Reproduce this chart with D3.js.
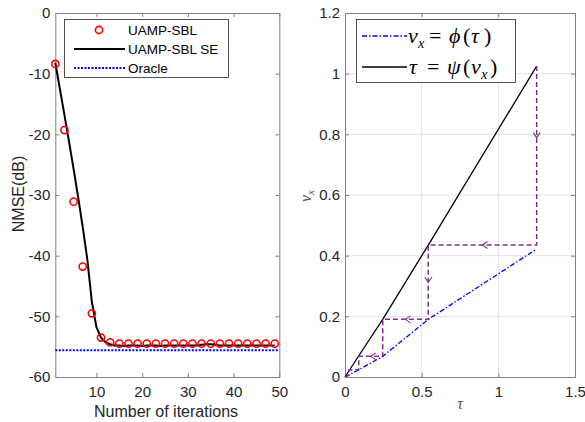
<!DOCTYPE html>
<html><head><meta charset="utf-8">
<script src="https://cdn.jsdelivr.net/npm/d3@7"></script>
<style>body{margin:0;background:#fff}svg{display:block}</style>
</head><body>
<script>
// ---- Left panel data ----
const simIters = [1,3,5,7,9,11,13,15,17,19,21,23,25,27,29,31,33,35,37,39,41,43,45,47,49];
const simNMSE  = [-8.4,-19.3,-31.1,-41.8,-49.5,-53.5,-54.3,-54.5,-54.5,-54.5,-54.5,-54.5,-54.5,-54.5,-54.5,-54.5,-54.5,-54.5,-54.5,-54.5,-54.5,-54.5,-54.5,-54.5,-54.5];
const seIters  = [1,2,3,4,5,6,7,8,9,10,11,12,13,14,15,16,17,18,19,20,21,22,23,24,25,26,27,28,29,30,31,32,33,34,35,36,37,38,39,40,41,42,43,44,45,46,47,48,49];
const seNMSE   = [-8.2,-12.5,-16.8,-21.2,-25.7,-30.4,-35.3,-40.6,-47.6,-51.8,-53.5,-54.3,-54.6,-54.8,-54.8,-54.9,-54.8,-54.8,-54.8,-54.9,-54.8,-54.8,-54.8,-54.9,-54.8,-54.8,-54.8,-54.8,-54.8,-54.8,-54.8,-54.8,-54.7,-54.6,-54.6,-54.7,-54.8,-54.8,-54.8,-54.8,-54.8,-54.8,-54.8,-54.8,-54.8,-54.8,-54.8,-54.8,-54.8];
const oracleNMSE = -55.6;
const leftXTicks = [10,20,30,40,50];
const leftYTicks = [0,-10,-20,-30,-40,-50,-60];

// ---- Right panel data ----
const psiTau = [0, 0.09, 0.246, 0.543, 1.25];
const psiV   = [0, 0.07, 0.19, 0.435, 1.025];
const phiTau = [0, 0.09, 0.246, 0.543, 1.25];
const phiV   = [0, 0.024, 0.068, 0.19, 0.422];
const stairTau = [1.25, 1.25, 0.543, 0.543, 0.246, 0.246, 0.09, 0.09, 0.025, 0.025, 0];
const stairV   = [1.025, 0.435, 0.435, 0.19, 0.19, 0.068, 0.068, 0.024, 0.024, 0.006, 0];
const arrowSegs = [0, 1, 2, 3, 5];
const rightXTicks = [0, 0.5, 1, 1.5];
const rightYTicks = [0, 0.2, 0.4, 0.6, 0.8, 1, 1.2];

const W = 585, H = 422;
const svg = d3.select("body").append("svg").attr("width", W).attr("height", H);
const font = "'Liberation Sans', Arial, sans-serif";
const txtCol = "#262626", axCol = "#808080";
const yTop = 13, yBot = 377;

// ================= LEFT =================
const xL = d3.scaleLinear().domain([1, 50]).range([55.3, 279.3]);
const yL = d3.scaleLinear().domain([-60, 0]).range([yBot, yTop]);
const gL = svg.append("g");

function axesFrame(g, x, y, xt, yt, fmtX, fmtY, grid) {
  const [x0, x1] = x.range(), y0 = y.range()[1], y1 = y.range()[0];
  if (grid) {
    g.append("g").selectAll("line").data(xt.filter(t => x(t) > x0 + 1 && x(t) < x1 - 1)).join("line")
      .attr("x1", d => x(d)).attr("x2", d => x(d)).attr("y1", y0).attr("y2", y1)
      .attr("stroke", "#e3e3e3").attr("stroke-width", 1);
    g.append("g").selectAll("line").data(yt.filter(t => y(t) > y0 + 1 && y(t) < y1 - 1)).join("line")
      .attr("y1", d => y(d)).attr("y2", d => y(d)).attr("x1", x0).attr("x2", x1)
      .attr("stroke", "#e3e3e3").attr("stroke-width", 1);
  }
  const ax = [
    [d3.axisBottom(x).tickValues(xt).tickSizeInner(-4).tickSizeOuter(0).tickPadding(9).tickFormat(fmtX), `translate(0,${y1})`],
    [d3.axisTop(x).tickValues(xt).tickSizeInner(-4).tickSizeOuter(0).tickFormat(() => ""), `translate(0,${y0})`],
    [d3.axisLeft(y).tickValues(yt).tickSizeInner(-4).tickSizeOuter(0).tickPadding(5).tickFormat(fmtY), `translate(${x0},0)`],
    [d3.axisRight(y).tickValues(yt).tickSizeInner(-4).tickSizeOuter(0).tickFormat(() => ""), `translate(${x1},0)`]
  ];
  ax.forEach(([a, tr]) => {
    const s = g.append("g").attr("transform", tr).call(a);
    s.select(".domain").attr("stroke", axCol).attr("stroke-width", 1);
    s.selectAll(".tick line").attr("stroke", axCol);
    s.selectAll(".tick text").attr("font-family", font).attr("font-size", 15).attr("fill", txtCol);
  });
}
axesFrame(gL, xL, yL, leftXTicks, leftYTicks, d => String(d), d => String(d), false);

// oracle
gL.append("line").attr("x1", xL(1)).attr("x2", xL(50)).attr("y1", yL(oracleNMSE)).attr("y2", yL(oracleNMSE))
  .attr("stroke", "#0000ff").attr("stroke-width", 2).attr("stroke-dasharray", "2,1.5");
// SE
const seData = seIters.map((d, i) => [d, seNMSE[i]]);
gL.append("path").datum(seData).attr("fill", "none").attr("stroke", "#000").attr("stroke-width", 2)
  .attr("d", d3.line().x(d => xL(d[0])).y(d => yL(d[1])));
// sim circles
gL.append("g").selectAll("circle").data(simIters.map((d, i) => [d, simNMSE[i]])).join("circle")
  .attr("cx", d => xL(d[0])).attr("cy", d => yL(d[1])).attr("r", 3.6)
  .attr("fill", "none").attr("stroke", "#ff0000").attr("stroke-width", 1.6);

// labels
gL.append("text").attr("transform", "translate(23.5,194) rotate(-90)").attr("text-anchor", "middle")
  .attr("font-family", font).attr("font-size", 16).attr("fill", txtCol).text("NMSE(dB)");
gL.append("text").attr("x", 166).attr("y", 417).attr("text-anchor", "middle")
  .attr("font-family", font).attr("font-size", 16).attr("fill", txtCol).text("Number of iterations");

// legend
const lg = gL.append("g");
lg.append("rect").attr("x", 64.5).attr("y", 19.5).attr("width", 164).attr("height", 58)
  .attr("fill", "#fff").attr("stroke", "#262626").attr("stroke-width", 0.8);
const legL = [
  {t: "UAMP-SBL", y: 30},
  {t: "UAMP-SBL SE", y: 49},
  {t: "Oracle", y: 68}
];
lg.append("circle").attr("cx", 99).attr("cy", legL[0].y).attr("r", 3.6).attr("fill", "none").attr("stroke", "#ff0000").attr("stroke-width", 1.6);
lg.append("line").attr("x1", 74).attr("x2", 125).attr("y1", legL[1].y).attr("y2", legL[1].y).attr("stroke", "#000").attr("stroke-width", 2);
lg.append("line").attr("x1", 74).attr("x2", 125).attr("y1", legL[2].y).attr("y2", legL[2].y).attr("stroke", "#0000ff").attr("stroke-width", 2).attr("stroke-dasharray", "2,1.5");
lg.selectAll("text").data(legL).join("text").attr("x", 128).attr("y", d => d.y + 5)
  .attr("font-family", font).attr("font-size", 13.5).attr("fill", "#000").text(d => d.t);

// ================= RIGHT =================
const xR = d3.scaleLinear().domain([0, 1.5]).range([345, 575]);
const yR = d3.scaleLinear().domain([0, 1.2]).range([yBot, yTop]);
const gR = svg.append("g");
axesFrame(gR, xR, yR, rightXTicks, rightYTicks, d => String(d), d => String(d), true);

const line2 = d3.line().x(d => xR(d[0])).y(d => yR(d[1]));
// phi (blue dash-dot)
gR.append("path").datum(phiTau.map((d, i) => [d, phiV[i]])).attr("fill", "none")
  .attr("stroke", "#0000ff").attr("stroke-width", 1.3).attr("stroke-dasharray", "5,2,1.5,2").attr("d", line2);
// psi (black)
gR.append("path").datum(psiTau.map((d, i) => [d, psiV[i]])).attr("fill", "none")
  .attr("stroke", "#000").attr("stroke-width", 1.3).attr("d", line2);
// staircase
const purple = "#7E2F8E";
const stair = stairTau.map((d, i) => [d, stairV[i]]);
gR.append("path").datum(stair).attr("fill", "none").attr("stroke", purple).attr("stroke-width", 1.5)
  .attr("stroke-dasharray", "5,3").attr("d", line2);
arrowSegs.forEach(i => {
  const p0 = [xR(stair[i][0]), yR(stair[i][1])], p1 = [xR(stair[i+1][0]), yR(stair[i+1][1])];
  const len = Math.hypot(p1[0]-p0[0], p1[1]-p0[1]);
  const ux = (p1[0]-p0[0]) / len, uy = (p1[1]-p0[1]) / len;
  const f = i === 0 ? 0.4 : 0.5;
  const mx = p0[0] + (p1[0]-p0[0]) * f, my = p0[1] + (p1[1]-p0[1]) * f;
  const s = 5, w = 3.5;
  const bx = mx - ux * s, by = my - uy * s;
  gR.append("path").attr("fill", "none").attr("stroke", purple).attr("stroke-width", 1.1)
    .attr("d", `M${bx - uy*w},${by + ux*w}L${mx},${my}L${bx + uy*w},${by - ux*w}`);
});

// axis labels
gR.append("text").attr("transform", "translate(311,196) rotate(-90)").attr("text-anchor", "middle")
  .attr("font-family", "'Liberation Serif', serif").attr("font-style", "italic").attr("font-size", 16).attr("fill", "#555")
  .html('v<tspan font-size="11" dy="3">x</tspan>');
gR.append("text").attr("x", 460).attr("y", 409).attr("text-anchor", "middle")
  .attr("font-family", "'Liberation Serif', serif").attr("font-style", "italic").attr("font-size", 16).attr("fill", "#555").text("τ");

// legend
const lr = gR.append("g");
lr.append("rect").attr("x", 356.5).attr("y", 19.5).attr("width", 159).attr("height", 63)
  .attr("fill", "#fff").attr("stroke", "#262626").attr("stroke-width", 0.8);
lr.append("line").attr("x1", 362).attr("x2", 407).attr("y1", 36).attr("y2", 36)
  .attr("stroke", "#0000ff").attr("stroke-width", 1.5).attr("stroke-dasharray", "5,2,1.5,2");
lr.append("line").attr("x1", 362).attr("x2", 407).attr("y1", 67).attr("y2", 67)
  .attr("stroke", "#000").attr("stroke-width", 1.5);
const mf = "'Liberation Serif', serif";
function mathRow(y, parts) {
  const t = lr.append("text").attr("y", y).attr("font-family", mf).attr("font-size", 22).attr("fill", "#000");
  parts.forEach(([s, x, it, sub]) => {
    const ts = t.append("tspan").attr("x", x).attr("y", sub ? y + 5 : y).text(s);
    if (it) ts.attr("font-style", "italic");
    if (sub) ts.attr("font-size", 14.5);
  });
}
mathRow(43, [["v", 408, 1], ["x", 418, 1, 1], ["=", 429], ["ϕ", 449, 1], ["(", 463], ["τ", 471, 1], [")", 484]]);
mathRow(74, [["τ", 409, 1], ["=", 427], ["ψ", 447, 1], ["(", 463], ["v", 471, 1], ["x", 481, 1, 1], [")", 490]]);
</script>
</body></html>
